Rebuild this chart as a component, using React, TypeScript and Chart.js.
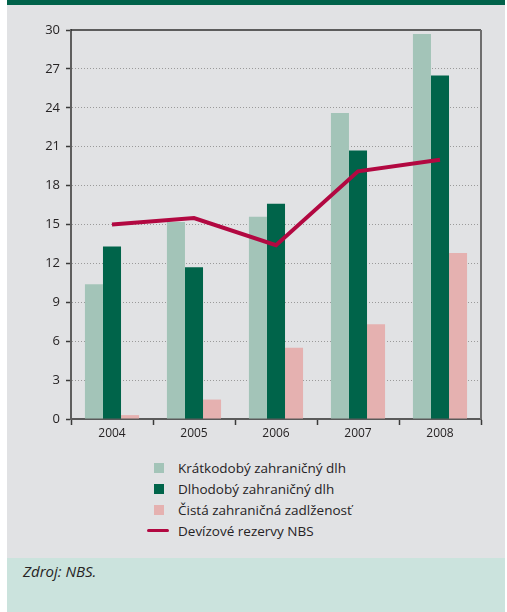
import React, { useEffect, useRef } from "react";
import { Chart, registerables } from "chart.js";

Chart.register(...registerables);

const years = ["2004", "2005", "2006", "2007", "2008"];
const shortTermDebt = [10.4, 15.2, 15.6, 23.6, 29.7];
const longTermDebt = [13.3, 11.7, 16.6, 20.7, 26.5];
const netForeignDebt = [0.3, 1.5, 5.5, 7.3, 12.8];
const nbsReserves = [15.0, 15.5, 13.4, 19.1, 20.0];
const seriesNames = [
  "Krátkodobý zahraničný dlh",
  "Dlhodobý zahraničný dlh",
  "Čistá zahraničná zadlženosť",
  "Devízové rezervy NBS",
];
const yMin = 0;
const yMax = 30;
const yStep = 3;

const C_LIGHT = "#a3c4b8";
const C_DARK = "#00644a";
const C_PINK = "#e5b1b0";
const C_LINE = "#b20841";
const TEXT = "#262324";
const FONT = "'Open Sans', 'Noto Sans', sans-serif";

const frame = {
  id: "frame",
  afterDatasetsDraw(chart: any) {
    const { ctx, chartArea: a } = chart;
    ctx.save();
    ctx.lineWidth = 1.5;
    ctx.strokeStyle = "#2f2f2f";
    ctx.beginPath();
    ctx.moveTo(a.left, a.top);
    ctx.lineTo(a.right, a.top);
    ctx.stroke();
    ctx.lineWidth = 2;
    ctx.strokeStyle = "#6e6e6e";
    ctx.beginPath();
    ctx.moveTo(a.right, a.top);
    ctx.lineTo(a.right, a.bottom);
    ctx.stroke();
    ctx.restore();
  },
};

function ChartCanvas() {
  const ref = useRef<HTMLCanvasElement | null>(null);
  useEffect(() => {
    if (!ref.current) return;
    const chart = new Chart(ref.current, {
      type: "bar",
      data: {
        labels: years,
        datasets: [
          { type: "bar", label: seriesNames[0], data: shortTermDebt, backgroundColor: C_LIGHT, order: 1 },
          { type: "bar", label: seriesNames[1], data: longTermDebt, backgroundColor: C_DARK, order: 1 },
          { type: "bar", label: seriesNames[2], data: netForeignDebt, backgroundColor: C_PINK, order: 1 },
          {
            type: "line",
            label: seriesNames[3],
            data: nbsReserves,
            borderColor: C_LINE,
            backgroundColor: C_LINE,
            borderWidth: 4,
            pointRadius: 0,
            tension: 0,
            order: 0,
          },
        ] as any,
      },
      options: {
        animation: false,
        responsive: false,
        maintainAspectRatio: false,
        datasets: { bar: { categoryPercentage: 0.66, barPercentage: 1 } } as any,
        layout: { padding: { left: 0, top: 25, right: 24, bottom: 0 } },
        plugins: { legend: { display: false }, tooltip: { enabled: false } },
        scales: {
          x: {
            grid: {
              display: true,
              drawOnChartArea: false,
              drawTicks: true,
              tickLength: 6,
              tickColor: "#3a3a3a",
              tickWidth: 1.5,
              offset: true,
            },
            border: { display: true, color: "#5a5a5a", width: 2 },
            ticks: { color: TEXT, font: { family: FONT, size: 12 }, padding: 1 },
            afterFit: (s: any) => {
              s.height = 26;
            },
          },
          y: {
            min: yMin,
            max: yMax,
            ticks: { stepSize: yStep, color: TEXT, font: { family: FONT, size: 13 }, padding: 6 },
            grid: {
              color: (c: any) =>
                c.tick && (c.tick.value === yMin || c.tick.value === yMax) ? "rgba(0,0,0,0)" : "#9a9a9a",
              lineWidth: 1,
              drawTicks: true,
              tickLength: 5,
              tickColor: "#3a3a3a",
              tickWidth: 1.5,
              tickBorderDash: [],
            },
            border: { display: true, color: "#5e5e5e", width: 2, dash: [1, 2] },
            afterFit: (s: any) => {
              s.width = 64;
            },
          },
        },
      },
      plugins: [frame],
    });
    return () => chart.destroy();
  }, []);
  return (
    <canvas
      ref={ref}
      width={498}
      height={440}
      style={{ position: "absolute", left: 7, top: 5, width: 498, height: 440 }}
    />
  );
}

const legendColors = [C_LIGHT, C_DARK, C_PINK];

export default function App() {
  useEffect(() => {
    document.body.style.margin = "0";
  }, []);
  return (
    <div style={{ position: "relative", width: 507, height: 612, background: "#ffffff", fontFamily: FONT, overflow: "hidden" }}>
      <div style={{ position: "absolute", left: 7, top: 0, width: 498, height: 5, background: "#00624a" }} />
      <div style={{ position: "absolute", left: 7, top: 5, width: 498, height: 553, background: "#e1e2e4" }} />
      <div style={{ position: "absolute", left: 7, top: 558, width: 498, height: 54, background: "#cbe3dd" }} />
      <ChartCanvas />
      {seriesNames.map((name, i) => (
        <div
          key={name}
          style={{ position: "absolute", left: 140, top: 457 + i * 21, height: 21, width: 300, display: "flex", alignItems: "center" }}
        >
          {i < 3 ? (
            <div style={{ marginLeft: 14, width: 10, height: 10, background: legendColors[i] }} />
          ) : (
            <div style={{ marginLeft: 7, width: 22, height: 3.5, background: C_LINE, borderRadius: 2 }} />
          )}
          <span
            style={{
              position: "absolute",
              left: 38,
              fontSize: 13.5,
              color: TEXT,
              whiteSpace: "nowrap",
            }}
          >
            {name}
          </span>
        </div>
      ))}
      <div style={{ position: "absolute", left: 23, top: 561, fontSize: 15, fontStyle: "italic", color: TEXT }}>
        Zdroj: NBS.
      </div>
    </div>
  );
}
